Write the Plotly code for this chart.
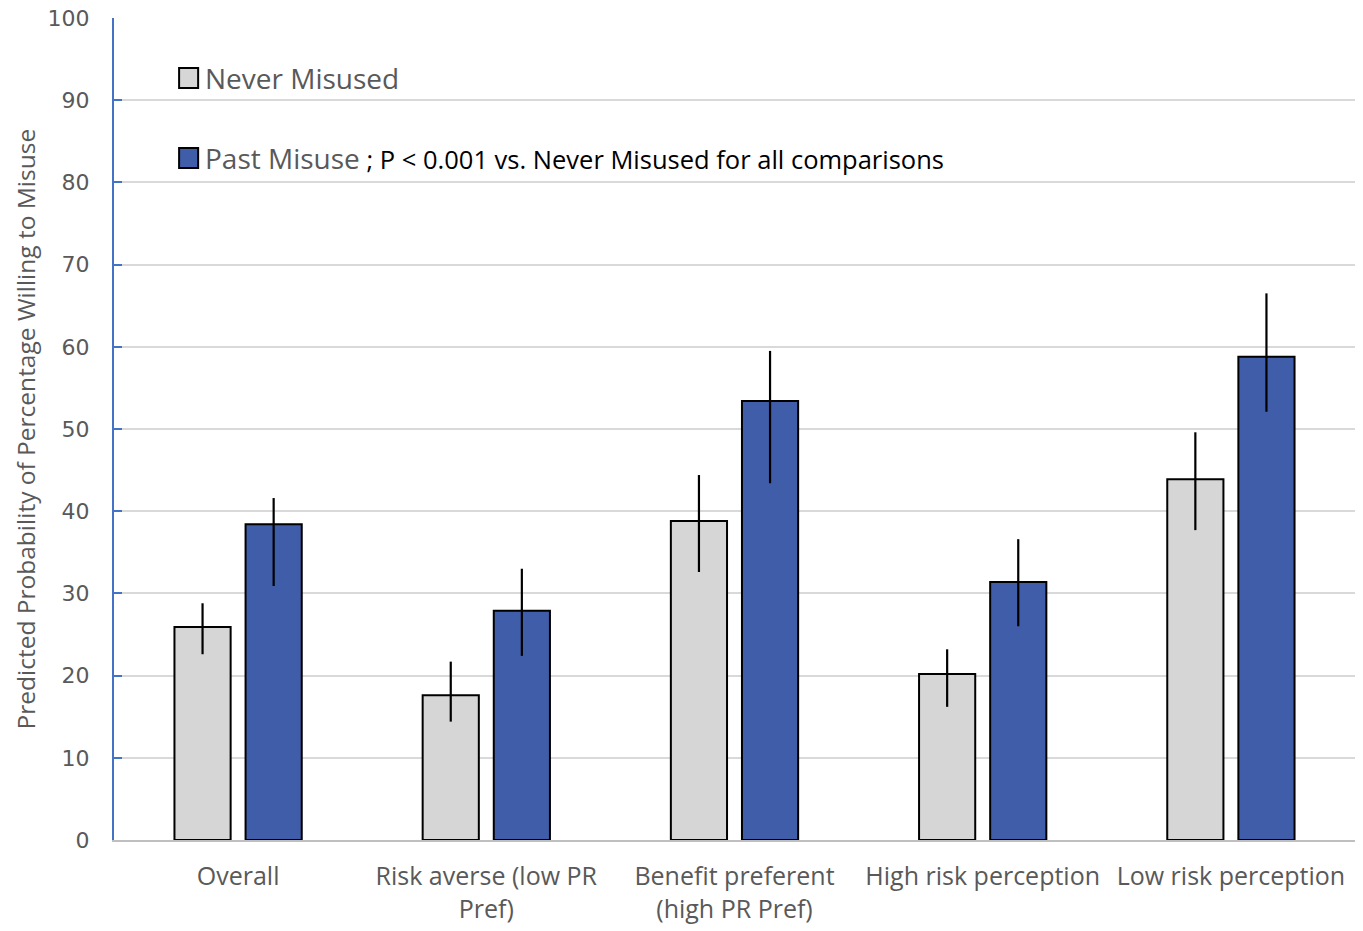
import plotly.graph_objects as go

categories = ["Overall", "Risk averse (low PR<br>Pref)", "Benefit preferent<br>(high PR Pref)",
              "High risk perception", "Low risk perception"]
never_vals = [25.9, 17.6, 38.8, 20.2, 43.9]
never_hi = [28.8, 21.7, 44.4, 23.2, 49.6]
never_lo = [22.6, 14.4, 32.6, 16.2, 37.7]
past_vals = [38.4, 27.9, 53.4, 31.4, 58.8]
past_hi = [41.6, 33.0, 59.5, 36.6, 66.5]
past_lo = [30.9, 22.4, 43.4, 26.0, 52.1]
y_ticks = [0, 10, 20, 30, 40, 50, 60, 70, 80, 90, 100]

GRAY = "#D6D6D6"
BLUE = "#3F5DA8"
TXT = "#595959"

fig = go.Figure()
fig.add_trace(go.Bar(
    x=categories, y=never_vals, name="Never Misused",
    marker=dict(color=GRAY, line=dict(color="black", width=2)),
    error_y=dict(type="data", symmetric=False,
                 array=[h - v for h, v in zip(never_hi, never_vals)],
                 arrayminus=[v - l for l, v in zip(never_lo, never_vals)],
                 color="black", thickness=2.2, width=0),
    showlegend=False))
fig.add_trace(go.Bar(
    x=categories, y=past_vals, name="Past Misuse",
    marker=dict(color=BLUE, line=dict(color="black", width=2)),
    error_y=dict(type="data", symmetric=False,
                 array=[h - v for h, v in zip(past_hi, past_vals)],
                 arrayminus=[v - l for l, v in zip(past_lo, past_vals)],
                 color="black", thickness=2.2, width=0),
    showlegend=False))

fig.update_layout(
    width=1363, height=931,
    margin=dict(l=106, r=16, t=10, b=99, autoexpand=False),
    paper_bgcolor="white", plot_bgcolor="white",
    barmode="group", bargap=0.427, bargroupgap=0.21,
    font=dict(family="Open Sans", color=TXT),
    xaxis=dict(showline=True, linecolor="#BFBFBF", linewidth=2, automargin=False,
               tickfont=dict(size=25, color=TXT, family="Open Sans"),
               ticks="", showgrid=False, ticklabelstandoff=13),
    yaxis=dict(range=[0, 100], tickvals=y_ticks, showline=True, linecolor="#4472C4",
               linewidth=2, ticks="inside", ticklen=8, tickcolor="#4472C4", tickwidth=2,
               showgrid=True, gridcolor="#D9D9D9", gridwidth=2, automargin=False,
               tickfont=dict(size=22, color=TXT, family="DejaVu Sans"),
               ticklabelstandoff=18, ticklabeloverflow="allow", zeroline=False),
)

fig.add_annotation(text="Predicted Probability of Percentage Willing to Misuse",
                   xref="paper", yref="paper", x=0, y=0.5, xshift=-108,
                   textangle=-90, showarrow=False,
                   font=dict(size=24.5, color=TXT, family="Open Sans"))

# Legend drawn manually (positions in target pixel space)
def px_to_paper_x(px):
    return (px - 113) / (1352 - 113)

def px_to_paper_y(py):
    return (840 - py) / (840 - 18)

for (y0, y1, col) in [(68, 88, GRAY), (148, 168, BLUE)]:
    fig.add_shape(type="rect", xref="paper", yref="paper",
                  x0=px_to_paper_x(178), x1=px_to_paper_x(197),
                  y0=px_to_paper_y(y1), y1=px_to_paper_y(y0),
                  fillcolor=col, line=dict(color="black", width=2))

fig.add_annotation(text="Never Misused", xref="paper", yref="paper",
                   x=px_to_paper_x(202), y=px_to_paper_y(78), xanchor="left", yanchor="middle",
                   showarrow=False, font=dict(size=28, color=TXT, family="Open Sans"))
fig.add_annotation(text="Past Misuse<span style='font-size:25.5px;color:black'> ; P < 0.001 vs. Never Misused for all comparisons</span>",
                   xref="paper", yref="paper",
                   x=px_to_paper_x(202), y=px_to_paper_y(158), xanchor="left", yanchor="middle",
                   showarrow=False, font=dict(size=28, color=TXT, family="Open Sans"))

fig.write_html("out.html")
